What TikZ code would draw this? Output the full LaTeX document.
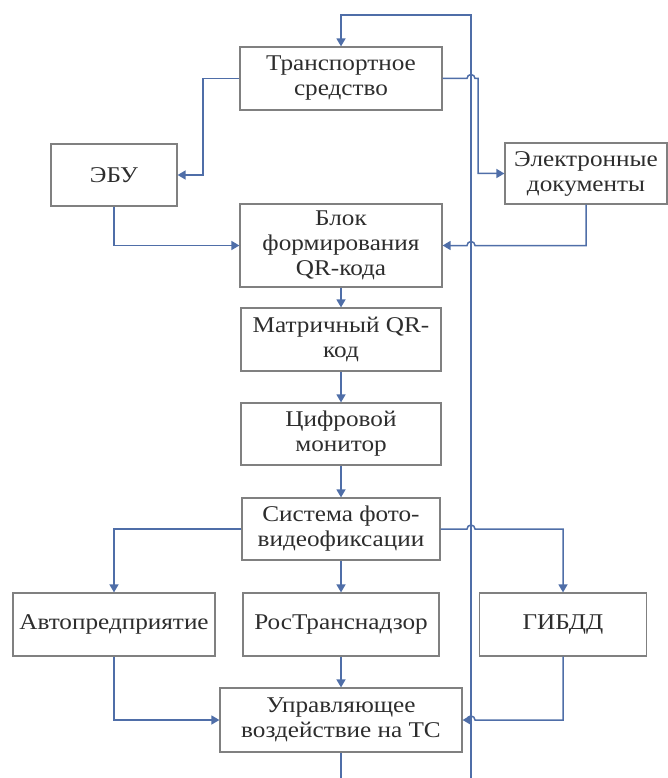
\documentclass[tikz,border=0pt]{standalone}
\usepackage{fontspec}
\setmainfont{Liberation Serif}[FakeStretch=1.12]
\usetikzlibrary{arrows.meta}
\definecolor{linkblue}{RGB}{79,110,168}
\definecolor{boxgray}{RGB}{128,128,128}
\definecolor{inkgray}{RGB}{45,45,45}
\begin{document}
\begin{tikzpicture}[x=1pt,y=1pt,
    box/.style={draw=boxgray, line width=1.2pt, align=center, text=inkgray,
      inner sep=0pt, font=\fontsize{22.5}{25}\selectfont},
    flow/.style={draw=linkblue, line width=1.5pt, -{Triangle[width=9pt,length=8pt]}},
    link/.style={draw=linkblue, line width=1.5pt}]
  \useasboundingbox (0,0) rectangle (668,-778);

  \node[box, minimum width=202, minimum height=63] (ts)       at (341,-78.5)  {Транспортное\\средство};
  \node[box, minimum width=126, minimum height=62] (ecu)      at (114,-175)   {ЭБУ};
  \node[box, minimum width=162, minimum height=61] (edoc)     at (586,-173.5) {Электронные\\документы};
  \node[box, minimum width=202, minimum height=83] (qrblock)  at (341,-245.5) {Блок\\формирования\\QR-кода};
  \node[box, minimum width=200, minimum height=63] (qrmatrix) at (341,-339.5) {Матричный QR-\\код};
  \node[box, minimum width=200, minimum height=62] (monitor)  at (341,-434)    {Цифровой\\монитор};
  \node[box, minimum width=198, minimum height=62] (photo)    at (341,-529)    {Система фото-\\видеофиксации};
  \node[box, minimum width=202, minimum height=63] (fleet)    at (114,-624.5) {Автопредприятие};
  \node[box, minimum width=196, minimum height=63] (rtn)      at (341,-624.5) {РосТранснадзор};
  \node[box, minimum width=167, minimum height=63] (gibdd)    at (563,-624.5) {ГИБДД};
  \node[box, minimum width=242, minimum height=64] (ctrl)     at (341,-720)   {Управляющее\\воздействие на ТС};

  \coordinate (bustop) at (471,-15);
  \coordinate (busbot) at (471,-800);

  % feedback loop
  \draw[flow] (ctrl.south) -- (341,-800) -- (busbot) -- (bustop) -| (ts.north);

  \draw[flow] (ts.west) -- (203,-78.5) |- (ecu.east);
  \draw[flow] (ts.east) -- (467,-78.5) arc[start angle=180,end angle=0,radius=4] -- (478,-78.5) |- (edoc.west);
  \draw[flow] (ecu.south) |- (qrblock.west);
  \draw[flow] (edoc.south) |- (475,-245.5) arc[start angle=0,end angle=180,radius=4] -- (qrblock.east);

  \draw[flow] (qrblock.south) -- (qrmatrix.north);
  \draw[flow] (qrmatrix.south) -- (monitor.north);
  \draw[flow] (monitor.south) -- (photo.north);

  \draw[flow] (photo.west) -| (fleet.north);
  \draw[flow] (photo.south) -- (rtn.north);
  \draw[flow] (photo.east) -- (467,-529) arc[start angle=180,end angle=0,radius=4] -| (gibdd.north);

  \draw[flow] (fleet.south) |- (ctrl.west);
  \draw[flow] (rtn.south) -- (ctrl.north);
  \draw[flow] (gibdd.south) |- (475,-720) arc[start angle=0,end angle=180,radius=4] -- (ctrl.east);
\end{tikzpicture}
\end{document}
